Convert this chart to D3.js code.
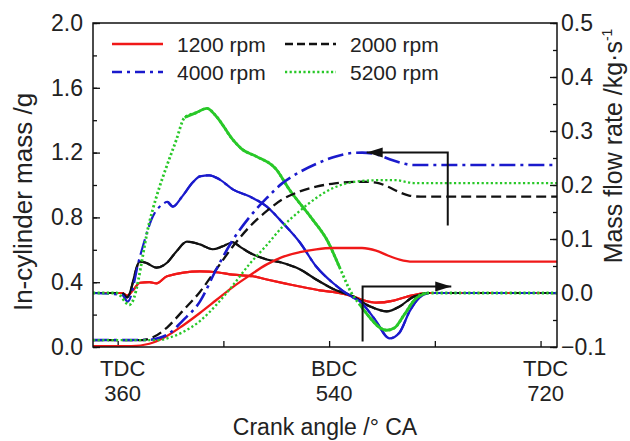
<!DOCTYPE html>
<html>
<head>
<meta charset="utf-8">
<script src="https://cdnjs.cloudflare.com/ajax/libs/d3/7.8.5/d3.min.js"></script>
<style>
  body { margin: 0; background: #fff; }
  svg text { font-family: "Liberation Sans", Arial, sans-serif; fill: #222; }
</style>
</head>
<body>
<svg id="chart" width="630" height="441"></svg>
<script>
// crank angle (deg CA) vs in-cylinder mass (g)
var mass1200 = [[339,0.006],[372,0.006],[387,0.02],[400,0.06],[415,0.13],[430,0.21],[444,0.29],[458,0.37],[472,0.44],[487,0.51],[500,0.555],[515,0.585],[529,0.603],[543,0.611],[568,0.611],[580,0.595],[590,0.565],[600,0.54],[611,0.527],[734,0.527]];
var mass2000 = [[339,0.043],[381,0.043],[390,0.06],[402,0.12],[415,0.22],[430,0.34],[444,0.48],[458,0.62],[472,0.74],[487,0.84],[500,0.91],[515,0.96],[529,0.99],[545,1.01],[568,1.02],[580,1.015],[590,0.99],[600,0.955],[608,0.935],[618,0.928],[734,0.928]];
var mass4000 = [[339,0.043],[384,0.043],[395,0.055],[405,0.09],[415,0.16],[430,0.28],[444,0.48],[458,0.66],[472,0.8],[487,0.92],[500,1.01],[515,1.08],[529,1.13],[545,1.175],[560,1.198],[568,1.2],[580,1.19],[591,1.16],[602,1.135],[612,1.123],[734,1.123]];
var mass5200 = [[339,0.043],[395,0.043],[405,0.06],[415,0.09],[430,0.16],[444,0.26],[458,0.38],[472,0.51],[487,0.63],[500,0.74],[515,0.84],[529,0.92],[543,0.98],[555,1.01],[568,1.025],[585,1.03],[597,1.03],[605,1.02],[612,1.012],[734,1.012]];

// crank angle (deg CA) vs mass flow rate (kg/s)
var flow1200 = [[339,0],[364,0],[368,-0.005],[373,0.005],[379,0.019],[387,0.02],[393,0.018],[402,0.031],[430,0.04],[446,0.038],[458,0.034],[475,0.031],[487,0.025],[504,0.017],[515,0.012],[532,0.005],[543,0.002],[560,-0.006],[570,-0.014],[580,-0.018],[595,-0.014],[606,-0.007],[623,0],[734,0]];
var flow2000 = [[339,0],[364,0],[368,-0.008],[379,0.058],[384,0.056],[393,0.047],[402,0.056],[410,0.077],[419,0.095],[430,0.09],[441,0.081],[449,0.086],[458,0.094],[464,0.086],[472,0.075],[487,0.062],[500,0.056],[515,0.044],[529,0.025],[543,0.008],[560,-0.006],[575,-0.025],[589,-0.034],[600,-0.025],[611,-0.008],[625,0],[734,0]];
var flow4000 = [[339,0],[364,-0.004],[368.5,-0.016],[379,0.068],[390,0.142],[398,0.164],[402.6,0.169],[407,0.16],[415,0.179],[424,0.205],[430,0.216],[438,0.218],[447,0.21],[458,0.192],[472,0.179],[487,0.16],[500,0.131],[515,0.094],[529,0.049],[543,0.019],[560,-0.008],[566,-0.015],[579,-0.049],[591.5,-0.084],[600,-0.073],[608.5,-0.034],[617,-0.008],[625,0],[734,0]];
var flow5200 = [[339,0],[359,0],[370,-0.022],[372,-0.018],[387,0.131],[410,0.284],[417,0.325],[427,0.334],[436,0.342],[444,0.327],[458,0.284],[466,0.266],[478,0.253],[495,0.229],[506,0.192],[526,0.136],[538,0.099],[549,0.047],[559,0],[566,-0.021],[574.5,-0.045],[583,-0.064],[589,-0.069],[596,-0.064],[604,-0.04],[613,-0.012],[623,0],[734,0]];

var rpmLabels = ["1200 rpm", "2000 rpm", "4000 rpm", "5200 rpm"];
var massData = [mass1200, mass2000, mass4000, mass5200];
var flowData = [flow1200, flow2000, flow4000, flow5200];
// angle spans where the flow curve is so dense it prints as a solid line
var flowSolidSpans = [[[339,734]], [[364,625]], [[402.6,625]], [[417,549],[566,623]]];

var leftTicks = [0, 0.4, 0.8, 1.2, 1.6, 2.0];
var rightTicks = [-0.1, 0, 0.1, 0.2, 0.3, 0.4, 0.5];
var angleTicks = [360, 450, 540, 630, 720];
var angleLabels = [[360, "TDC", "360"], [540, "BDC", "540"], [720, "TDC", "720"]];

// annotation arrows: [angle, value]
var arrowToMass = [[641, 0.75], [641, 1.2], [572, 1.2]];
var arrowToFlow = [[568.5, -0.09], [568.5, 0.012], [644, 0.012]];

var colors = ["#f01818", "#111111", "#1a1acc", "#28c828"];
var dashes = [null, "10,5", "16,5,3,5", "2.2,2.4"];

var svg = d3.select('#chart');
var plotL = 93, plotR = 557, plotT = 23, plotB = 347;

var x = d3.scaleLinear().domain([339, 734]).range([plotL, plotR]);
var yL = d3.scaleLinear().domain([0, 2]).range([plotB, plotT]);
var yR = d3.scaleLinear().domain([-0.1, 0.5]).range([plotB, plotT]);

svg.append('defs').append('clipPath').attr('id', 'plot-clip')
  .append('rect').attr('x', plotL).attr('y', plotT).attr('width', plotR - plotL).attr('height', plotB - plotT);

// axes
function tidy(g) {
  g.select('.domain').remove();
  g.selectAll('.tick line').attr('stroke', '#111').attr('stroke-width', 1.3);
  g.selectAll('.tick text').style('font-size', '23px').attr('fill', '#222');
}

svg.append('g').attr('transform', 'translate(' + plotL + ',0)')
  .call(d3.axisLeft(yL).tickValues(d3.range(0, 2.01, 0.2)).tickSizeInner(-4).tickFormat(''))
  .call(tidy);
svg.append('g').attr('transform', 'translate(' + plotL + ',0)')
  .call(d3.axisLeft(yL).tickValues(leftTicks).tickSizeInner(-7).tickPadding(10).tickFormat(d3.format('.1f')))
  .call(tidy);

svg.append('g').attr('transform', 'translate(' + plotR + ',0)')
  .call(d3.axisRight(yR).tickValues(d3.range(-0.1, 0.501, 0.05)).tickSizeInner(-4).tickFormat(''))
  .call(tidy);
svg.append('g').attr('transform', 'translate(' + plotR + ',0)')
  .call(d3.axisRight(yR).tickValues(rightTicks).tickSizeInner(-7).tickPadding(4).tickFormat(d3.format('.1f')))
  .call(tidy);

svg.append('g').attr('transform', 'translate(0,' + plotB + ')')
  .call(d3.axisBottom(x).tickValues(angleTicks).tickSizeInner(-6).tickFormat(''))
  .call(tidy);

var angleText = svg.append('g').selectAll('g').data(angleLabels).enter().append('g')
  .attr('transform', function(d) { return 'translate(' + (x(d[0]) + 5) + ',0)'; });
angleText.append('text').attr('y', 376).attr('text-anchor', 'middle').style('font-size', '22px')
  .text(function(d) { return d[1]; });
angleText.append('text').attr('y', 401).attr('text-anchor', 'middle').style('font-size', '22px')
  .text(function(d) { return d[2]; });

svg.append('text').attr('x', 325).attr('y', 435).attr('text-anchor', 'middle')
  .style('font-size', '23px').text('Crank angle /° CA');

svg.append('text').attr('transform', 'translate(32,202) rotate(-90)').attr('text-anchor', 'middle')
  .style('font-size', '26px').text('In-cylinder mass /g');

var rlab = svg.append('text').attr('transform', 'translate(622,146) rotate(-90)').attr('text-anchor', 'middle')
  .style('font-size', '25px');
rlab.append('tspan').text('Mass flow rate /kg·s');
rlab.append('tspan').attr('dy', -10).style('font-size', '14px').text('-1');

// curves
var plot = svg.append('g').attr('clip-path', 'url(#plot-clip)');

var massLine = d3.line().x(function(d) { return x(d[0]); }).y(function(d) { return yL(d[1]); })
  .curve(d3.curveMonotoneX);
var flowLine = d3.line().x(function(d) { return x(d[0]); }).y(function(d) { return yR(d[1]); })
  .curve(d3.curveMonotoneX);

rpmLabels.forEach(function(name, i) {
  plot.append('path').datum(flowData[i])
    .attr('d', flowLine).attr('fill', 'none')
    .attr('stroke', colors[i]).attr('stroke-width', i === 3 ? 2.8 : 2.2)
    .attr('stroke-dasharray', dashes[i]);
  flowSolidSpans[i].forEach(function(span) {
    var part = flowData[i].filter(function(d) { return d[0] >= span[0] && d[0] <= span[1]; });
    plot.append('path').datum(part)
      .attr('d', flowLine).attr('fill', 'none')
      .attr('stroke', colors[i]).attr('stroke-width', i === 3 ? 2.8 : 2.2);
  });
});

rpmLabels.forEach(function(name, i) {
  plot.append('path').datum(massData[i])
    .attr('d', massLine).attr('fill', 'none')
    .attr('stroke', colors[i]).attr('stroke-width', i === 2 ? 2.6 : 2.3)
    .attr('stroke-dasharray', dashes[i]);
});

// arrows
function arrow(points, yScale) {
  var pts = points.map(function(d) { return [x(d[0]), yScale(d[1])]; });
  svg.append('path').attr('d', d3.line()(pts)).attr('fill', 'none')
    .attr('stroke', '#111').attr('stroke-width', 2);
  var a = pts[pts.length - 2], b = pts[pts.length - 1];
  var dir = b[0] > a[0] ? 1 : -1;
  var head = [[b[0], b[1]], [b[0] - dir * 16, b[1] - 5], [b[0] - dir * 16, b[1] + 5]];
  svg.append('path').attr('d', d3.line()(head) + 'Z').attr('fill', '#111');
}
arrow(arrowToMass, yL);
arrow(arrowToFlow, yR);

// frame
svg.append('rect').attr('x', plotL).attr('y', plotT).attr('width', plotR - plotL).attr('height', plotB - plotT)
  .attr('fill', 'none').attr('stroke', '#111').attr('stroke-width', 1.5);

// legend
var legendPos = [[112, 44], [285, 44], [112, 72], [285, 72]];
var legend = svg.append('g').selectAll('g').data(rpmLabels).enter().append('g')
  .attr('transform', function(d, i) { return 'translate(' + legendPos[i][0] + ',' + legendPos[i][1] + ')'; });
legend.append('line').attr('x1', 0).attr('x2', 51).attr('y1', 0).attr('y2', 0)
  .attr('stroke', function(d, i) { return colors[i]; })
  .attr('stroke-width', 2.3)
  .attr('stroke-dasharray', function(d, i) { return i === 1 ? '8,4' : (i === 2 ? '10,5,3,5' : dashes[i]); });
legend.append('text').attr('x', 65).attr('y', 0).attr('dy', '0.36em')
  .style('font-size', '21px').text(function(d) { return d; });
</script>
</body>
</html>
